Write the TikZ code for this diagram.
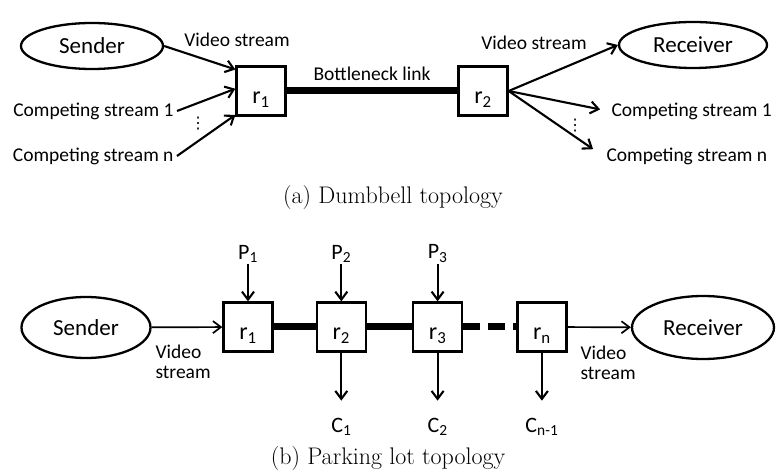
\documentclass[tikz,border=0pt]{standalone}
\usepackage{fontspec}
\newfontfamily\calibri{Carlito}
\newfontfamily\dejavu{DejaVu Sans}
\usetikzlibrary{shapes.geometric, arrows.meta, positioning}
\tikzstyle{host} = [ellipse, draw=black, line width=2.3pt, inner sep=0pt, font=\calibri\fontsize{23}{26}\selectfont]
\tikzstyle{router} = [rectangle, draw=black, line width=2.3pt, minimum size=49pt, inner sep=0pt, text height=25pt, text depth=0pt, font=\calibri\fontsize{24}{26}\selectfont]
\tikzstyle{lbl} = [font=\calibri\fontsize{19.5}{20}\selectfont]
\tikzstyle{flow} = [font=\calibri\fontsize{22}{24}\selectfont, inner sep=2pt]
\tikzstyle{more} = [font=\dejavu\fontsize{16}{18}\selectfont, inner sep=0pt]
\tikzstyle{arrow} = [line width=2.1pt, -{Straight Barb[length=8pt,width=12pt]}]
\tikzstyle{thinarrow} = [line width=1.7pt, -{Straight Barb[length=8pt,width=12pt]}]
\tikzstyle{link} = [line width=7pt]
\tikzstyle{caption} = [font=\fontsize{24}{28}\selectfont]

\begin{document}
\begin{tikzpicture}[x=1pt, y=1pt]
\useasboundingbox (0,0) rectangle (776,471);

% (a) Dumbbell
\node (sender) [host, minimum width=142pt, minimum height=46pt] at (92,425) {Sender};
\node (ra) [router] at (261,380) {r\textsubscript{1}};
\node (rb) [router] at (483,380) {r\textsubscript{2}};
\node (receiver) [host, minimum width=148pt, minimum height=46pt] at (693,426) {Receiver};
\node (vidin) [lbl] at (237,431) {Video stream};
\node (csin1) [lbl, anchor=east] at (177,360) {Competing stream 1};
\node (csinn) [lbl, anchor=east] at (177,315) {Competing stream n};
\node (dotsin) [more] at (198,347) {⋮};
\node (vidout) [lbl] at (534,428) {Video stream};
\node (csout1) [lbl, anchor=west] at (608,360) {Competing stream 1};
\node (csoutn) [lbl, anchor=west] at (603,315) {Competing stream n};
\node (dotsout) [more] at (575,345) {⋮};

\draw [arrow] (sender.east) -- (ra.140);
\draw [arrow] (csin1.east) -- (ra.175);
\draw [arrow] (csinn.east) -- (ra.223);
\draw [link] (ra) -- node[lbl, above=4pt] {Bottleneck link} (rb);
\draw [arrow] (rb.east) -- (receiver.west);
\draw [arrow, shorten >=8pt] (rb.east) -- (csout1.west);
\draw [arrow, shorten >=12pt] (rb.east) -- (csoutn.west);

\node (capa) [caption] at (393,273.5) {(a) Dumbbell topology};

% (b) Parking lot
\node (senderb) [host, minimum width=129pt, minimum height=61pt] at (86,143.5) {Sender};
\node (rb1) [router] at (248,144) {r\textsubscript{1}};
\node (rb2) [router, right=42pt of rb1] {r\textsubscript{2}};
\node (rb3) [router, right=45pt of rb2] {r\textsubscript{3}};
\node (rbn) [router, right=53pt of rb3] {r\textsubscript{n}};
\node (receiverb) [host, minimum width=142pt, minimum height=63pt] at (703,143.5) {Receiver};

\node (p1) [flow, above=37pt of rb1] {P\textsubscript{1}};
\node (p2) [flow, above=37pt of rb2] {P\textsubscript{2}};
\node (p3) [flow, above=37pt of rb3] {P\textsubscript{3}};
\node (c1) [flow, below=63pt of rb2] {C\textsubscript{1}};
\node (c2) [flow, below=63pt of rb3] {C\textsubscript{2}};
\node (cn) [flow, below=63pt of rbn] {C\textsubscript{n-1}};
\node (vidb1) [lbl, anchor=west, align=left] at (152,109) {Video\\stream};
\node (vidb2) [lbl, anchor=west, align=left] at (577,108) {Video\\stream};

\draw [thinarrow] (senderb) -- (rb1);
\draw [link] (rb1) -- (rb2);
\draw [link] (rb2) -- (rb3);
\draw [link, dash pattern=on 17pt off 8pt] (rb3) -- (rbn);
\draw [thinarrow] (rbn) -- (receiverb);
\draw [arrow] (p1) -- (rb1);
\draw [arrow] (p2) -- (rb2);
\draw [arrow] (p3) -- (rb3);
\draw [arrow, shorten >=15pt] (rb2) -- (c1);
\draw [arrow, shorten >=15pt] (rb3) -- (c2);
\draw [arrow, shorten >=15pt] (rbn) -- (cn);

\node (capb) [caption] at (388,12) {(b) Parking lot topology};
\end{tikzpicture}
\end{document}
